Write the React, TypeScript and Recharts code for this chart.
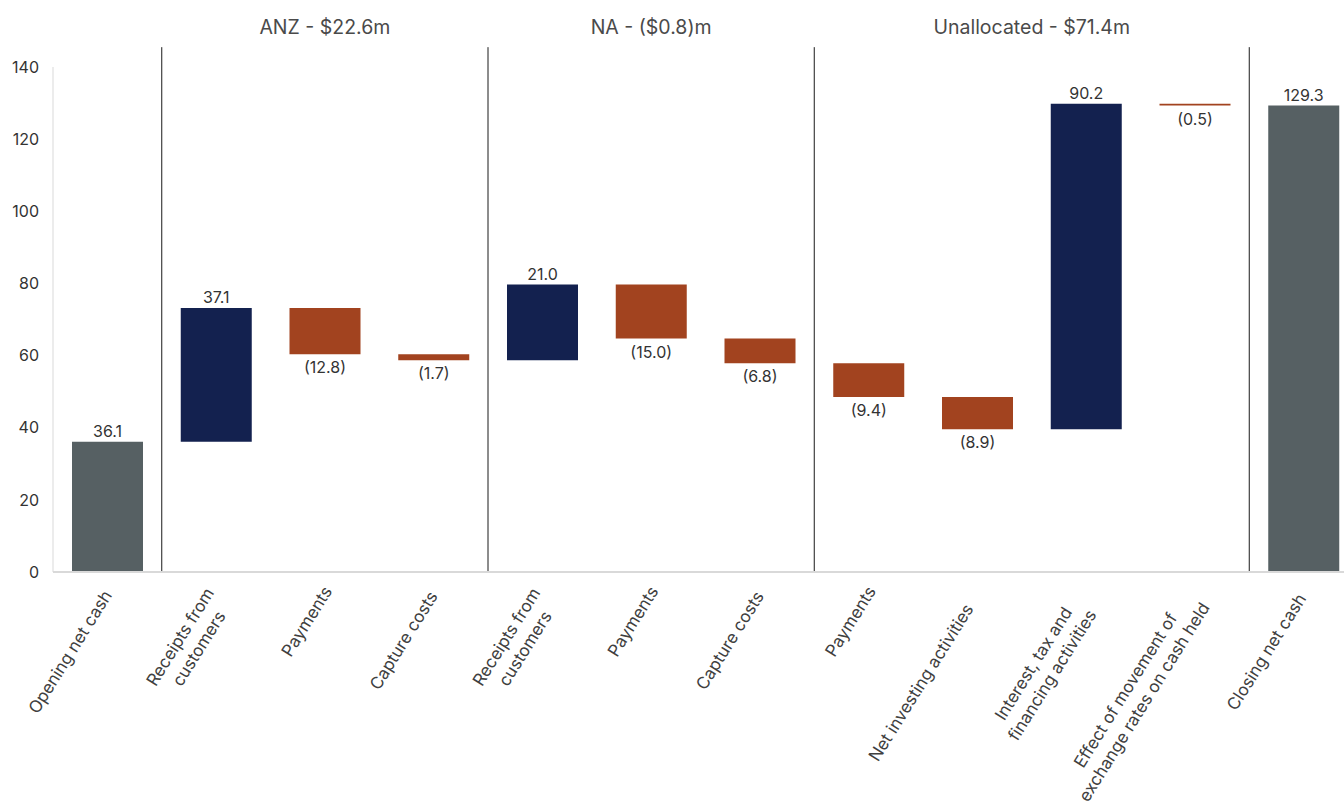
import React from 'react';
import { BarChart, Bar, XAxis, YAxis, ReferenceLine, ReferenceArea, LabelList, Cell } from 'recharts';

const ids = ['open', 'anzRec', 'anzPay', 'anzCap', 'naRec', 'naPay', 'naCap', 'unPay', 'unInv', 'unFin', 'unFx', 'close'];
const categoryLabels = [
  'Opening net cash',
  'Receipts from\ncustomers',
  'Payments',
  'Capture costs',
  'Receipts from\ncustomers',
  'Payments',
  'Capture costs',
  'Payments',
  'Net investing activities',
  'Interest, tax and\nfinancing activities',
  'Effect of movement of\nexchange rates on cash held',
  'Closing net cash',
];
const changes = [36.1, 37.1, -12.8, -1.7, 21.0, -15.0, -6.8, -9.4, -8.9, 90.2, -0.5, 129.3];
const kinds = ['total', 'up', 'down', 'down', 'up', 'down', 'down', 'down', 'down', 'up', 'down', 'total'];
const yTicks = [0, 20, 40, 60, 80, 100, 120, 140];

const groupTitles = ['ANZ - $22.6m', 'NA - ($0.8)m', 'Unallocated - $71.4m'];
const groupFirst = ['anzRec', 'naRec', 'unPay'];
const groupLast = ['anzCap', 'naCap', 'unFx'];
const separatorsAt = ['anzRec', 'naRec', 'unPay', 'close'];
const separatorTop = 145.5;

const colors: Record<string, string> = { total: '#566063', up: '#13214f', down: '#a2431f' };
const FONT = 'Inter, "Open Sans", Arial, sans-serif';

let running = 0;
const data = ids.map((id, i) => {
  const v = changes[i];
  let range: number[];
  if (kinds[i] === 'total') {
    range = [0, v];
    running = v;
  } else {
    const start = running;
    running = start + v;
    range = [Math.min(start, running), Math.max(start, running)];
  }
  return { id, range, value: v, kind: kinds[i] };
});

const estWidth = (s: string, fs: number) => s.length * fs * 0.53;

const XTick = (props: any) => {
  const { x, y, payload } = props;
  const i = ids.indexOf(payload.value);
  if (i < 0) return null;
  const lines = categoryLabels[i].split('\n');
  const fs = 17;
  const lh = 22;
  const n = lines.length;
  const w = Math.max(...lines.map((l) => estWidth(l, fs)));
  return (
    <g transform={`translate(${x + 6},${y + 14}) rotate(-58)`}>
      {lines.map((l, k) => (
        <text
          key={k}
          x={-w / 2}
          y={(k - (n - 1) / 2) * lh + (n > 1 ? 4 : 0)}
          textAnchor="middle"
          fontSize={fs}
          fill="#404040"
          fontFamily={FONT}
        >
          {l}
        </text>
      ))}
    </g>
  );
};

const renderLabel = (props: any) => {
  const { x, y, width, height, value } = props;
  const top = Math.min(y, y + height);
  const bottom = Math.max(y, y + height);
  const cx = x + width / 2;
  if (value < 0) {
    return (
      <text x={cx} y={bottom + 19} textAnchor="middle" fontSize={16} fill="#333" fontFamily={FONT}>
        {`(${Math.abs(value).toFixed(1)})`}
      </text>
    );
  }
  return (
    <text x={cx} y={top - 5} textAnchor="middle" fontSize={16} fill="#333" fontFamily={FONT}>
      {value.toFixed(1)}
    </text>
  );
};

export default function App() {
  return (
    <div style={{ position: 'fixed', left: 0, top: 0, width: 1344, height: 805, overflow: 'hidden', background: '#fff' }}>
      <BarChart
        width={1362}
        height={805}
        data={data}
        margin={{ top: 67, right: 4, left: 8, bottom: 53 }}
        style={{ fontFamily: FONT }}
      >
        <XAxis
          dataKey="id"
          interval={0}
          tickLine={false}
          axisLine={{ stroke: '#d9d9d9', strokeWidth: 2 }}
          height={180}
          tick={<XTick />}
        />
        <YAxis
          domain={[0, 140]}
          ticks={yTicks}
          width={45}
          tickLine={false}
          tickMargin={8}
          axisLine={{ stroke: '#d9d9d9', strokeWidth: 1 }}
          tick={{ fill: '#333', fontSize: 16, fontFamily: FONT }}
        />
        <Bar dataKey="range" barSize={71} isAnimationActive={false}>
          {data.map((d) => (
            <Cell key={d.id} fill={colors[d.kind]} />
          ))}
          <LabelList dataKey="value" content={renderLabel} />
        </Bar>
        {separatorsAt.map((id) => (
          <ReferenceLine
            key={id}
            segment={[{ x: id, y: 0 }, { x: id, y: separatorTop }]}
            position="start"
            stroke="#1a1a1a"
            strokeWidth={1}
            ifOverflow="visible"
          />
        ))}
        {groupTitles.map((t, i) => (
          <ReferenceArea
            key={t}
            x1={groupFirst[i]}
            x2={groupLast[i]}
            y1={140}
            y2={separatorTop}
            fill="none"
            fillOpacity={0}
            stroke="none"
            ifOverflow="visible"
            label={{ value: t, position: 'top', offset: 13, fill: '#4a4a4a', fontSize: 19.5, fontFamily: FONT }}
          />
        ))}
      </BarChart>
    </div>
  );
}
